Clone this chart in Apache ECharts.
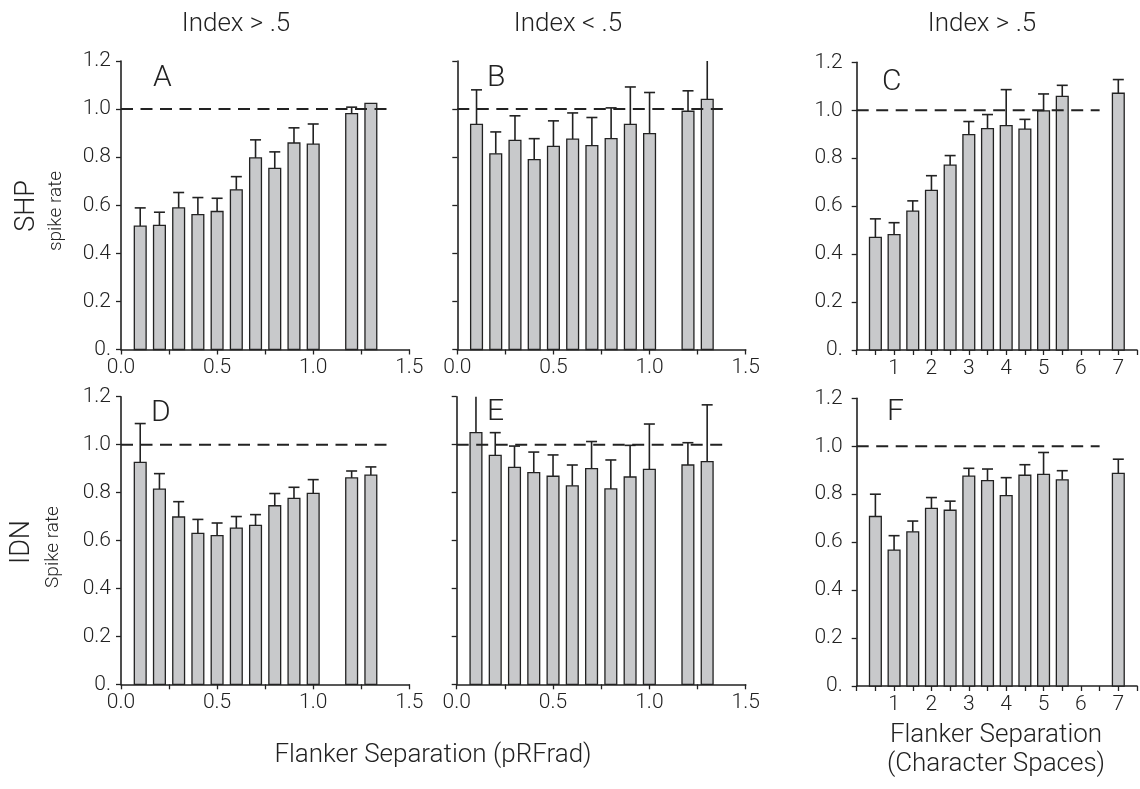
<!DOCTYPE html>
<html>
<head>
<meta charset="utf-8">
<script src="https://cdn.jsdelivr.net/npm/echarts@6/dist/echarts.min.js"></script>
<style>
  html, body { margin: 0; padding: 0; background: #ffffff; }
  #chart { width: 1140px; height: 789px; }
</style>
</head>
<body>
<div id="chart"></div>
<script>
// ---- data ----
const prfX  = [0.1, 0.2, 0.3, 0.4, 0.5, 0.6, 0.7, 0.8, 0.9, 1.0, 1.2, 1.3];
const charX = [0.5, 1.0, 1.5, 2.0, 2.5, 3.0, 3.5, 4.0, 4.5, 5.0, 5.5, 7.0];

// A: SHP, Index > .5 (pRFrad)
const shpHighVal = [0.513, 0.516, 0.589, 0.561, 0.574, 0.664, 0.797, 0.753, 0.859, 0.854, 0.981, 1.024];
const shpHighErr = [0.589, 0.571, 0.653, 0.632, 0.629, 0.719, 0.872, 0.822, 0.922, 0.938, 1.008, 1.024];
// B: SHP, Index < .5 (pRFrad)
const shpLowVal = [0.936, 0.814, 0.870, 0.790, 0.845, 0.875, 0.848, 0.877, 0.936, 0.898, 0.991, 1.040];
const shpLowErr = [1.080, 0.905, 0.972, 0.877, 0.951, 0.984, 0.965, 1.005, 1.092, 1.069, 1.076, 1.220];
// C: SHP, Index > .5 (character spaces)
const shpCharVal = [0.470, 0.481, 0.579, 0.666, 0.771, 0.898, 0.923, 0.936, 0.921, 0.997, 1.058, 1.071];
const shpCharErr = [0.547, 0.531, 0.622, 0.727, 0.811, 0.953, 0.982, 1.086, 0.962, 1.068, 1.104, 1.128];
// D: IDN, Index > .5 (pRFrad)
const idnHighVal = [0.926, 0.814, 0.698, 0.630, 0.620, 0.652, 0.663, 0.745, 0.776, 0.797, 0.861, 0.873];
const idnHighErr = [1.088, 0.879, 0.762, 0.688, 0.673, 0.700, 0.708, 0.796, 0.822, 0.854, 0.890, 0.907];
// E: IDN, Index < .5 (pRFrad)
const idnLowVal = [1.050, 0.955, 0.905, 0.883, 0.868, 0.828, 0.900, 0.815, 0.865, 0.897, 0.915, 0.929];
const idnLowErr = [1.220, 1.050, 0.994, 0.969, 0.957, 0.915, 1.013, 0.936, 0.997, 1.086, 1.008, 1.166];
// F: IDN, Index > .5 (character spaces)
const idnCharVal = [0.707, 0.567, 0.643, 0.741, 0.733, 0.875, 0.857, 0.794, 0.879, 0.883, 0.860, 0.887];
const idnCharErr = [0.800, 0.627, 0.688, 0.786, 0.771, 0.908, 0.905, 0.869, 0.923, 0.974, 0.898, 0.946];

const refLevel = 1.0;
const refEndPrf = 1.39;
const refEndChar = 6.5;

const columnTitles = ['Index > .5', 'Index < .5', 'Index > .5'];
const panelLetters = ['A', 'B', 'C', 'D', 'E', 'F'];
const rowLabels = ['SHP', 'IDN'];
const rowSubLabels = ['spike rate', 'Spike rate'];
const xTitlePrf = 'Flanker Separation (pRFrad)';
const xTitleChar = ['Flanker Separation', '(Character Spaces)'];

// ---- styles ----
const FONT = 'Roboto, "Liberation Sans", Arial, sans-serif';
const FW = 300;
const INK = '#222222';
const TXT = '#222222';
const BAR_FILL = '#c8c9cb';

const panels = [
  { key: 'A', x: prfX,  v: shpHighVal, e: shpHighErr, type: 'prf',  grid: { left: 121,   top: 61,  width: 288.3, height: 288.5 }, yLabels: true,  refEnd: refEndPrf },
  { key: 'B', x: prfX,  v: shpLowVal,  e: shpLowErr,  type: 'prf',  grid: { left: 457.3, top: 61,  width: 288.4, height: 288.5 }, yLabels: false, refEnd: refEndPrf },
  { key: 'C', x: charX, v: shpCharVal, e: shpCharErr, type: 'char', grid: { left: 856.7, top: 62.3, width: 294,  height: 287.7 }, yLabels: true,  refEnd: refEndChar },
  { key: 'D', x: prfX,  v: idnHighVal, e: idnHighErr, type: 'prf',  grid: { left: 121,   top: 396.7, width: 288.3, height: 287.6 }, yLabels: true,  refEnd: refEndPrf },
  { key: 'E', x: prfX,  v: idnLowVal,  e: idnLowErr,  type: 'prf',  grid: { left: 456.7, top: 396.7, width: 289,   height: 287.6 }, yLabels: false, refEnd: refEndPrf },
  { key: 'F', x: charX, v: idnCharVal, e: idnCharErr, type: 'char', grid: { left: 856.7, top: 398.3, width: 294,  height: 287.7 }, yLabels: true,  refEnd: refEndChar }
];

function barRenderer(halfW, capHalf) {
  return function (params, api) {
    const x = api.value(0), y = api.value(1), e = api.value(2);
    const base = api.coord([x, 0]);
    const top = api.coord([x, y]);
    const cs = params.coordSys;
    const children = [];
    if (e > y) {
      const ep = api.coord([x, e]);
      let clipped = false;
      if (ep[1] < cs.y) { ep[1] = cs.y; clipped = true; }
      children.push({
        type: 'line',
        shape: { x1: top[0], y1: top[1], x2: ep[0], y2: ep[1] },
        style: { stroke: INK, lineWidth: 1.6 }
      });
      if (!clipped) {
        children.push({
          type: 'line',
          shape: { x1: ep[0] - capHalf, y1: ep[1], x2: ep[0] + capHalf, y2: ep[1] },
          style: { stroke: INK, lineWidth: 1.6 }
        });
      }
    }
    children.push({
      type: 'rect',
      shape: { x: base[0] - halfW, y: top[1], width: halfW * 2, height: base[1] - top[1] },
      style: { fill: BAR_FILL, stroke: INK, lineWidth: 1.3 }
    });
    return { type: 'group', children: children };
  };
}

const grids = [], xAxes = [], yAxes = [], series = [];
panels.forEach(function (p, i) {
  grids.push(Object.assign({ containLabel: false }, p.grid));
  const isPrf = p.type === 'prf';
  xAxes.push({
    type: 'value', gridIndex: i,
    min: 0, max: isPrf ? 1.5 : 7.5, interval: isPrf ? 0.25 : 0.5,
    axisLine: { show: true, onZero: false, lineStyle: { color: INK, width: 1.6 } },
    axisTick: { show: true, inside: false, length: 5, lineStyle: { color: INK, width: 1.3 } },
    splitLine: { show: false },
    axisLabel: {
      show: true, margin: 8, fontFamily: FONT, fontWeight: FW, fontSize: 21, color: TXT,
      showMinLabel: true, showMaxLabel: true,
      formatter: function (val) {
        const r = Math.round(val * 100);
        if (isPrf) {
          return (r % 50 === 0) ? val.toFixed(1) : '';
        }
        return (r % 100 === 0 && r !== 0) ? String(Math.round(val)) : '';
      }
    }
  });
  yAxes.push({
    type: 'value', gridIndex: i,
    min: 0, max: 1.2, interval: 0.2,
    axisLine: { show: true, onZero: false, lineStyle: { color: INK, width: 1.6 } },
    axisTick: { show: true, inside: false, length: 5, lineStyle: { color: INK, width: 1.3 } },
    splitLine: { show: false },
    axisLabel: {
      show: p.yLabels, margin: isPrf ? 10 : 14, fontFamily: FONT, fontWeight: FW, fontSize: 21, color: TXT,
      formatter: function (val) { return Math.abs(val) < 1e-9 ? '0.' : val.toFixed(1); }
    }
  });
  series.push({
    type: 'custom', xAxisIndex: i, yAxisIndex: i,
    renderItem: barRenderer(5.9, 5.5),
    data: p.x.map(function (xv, k) { return [xv, p.v[k], p.e[k]]; }),
    encode: { x: 0, y: 1 },
    clip: false,
    z: 2,
    silent: true
  });
  series.push({
    type: 'line', xAxisIndex: i, yAxisIndex: i,
    data: [[0, refLevel], [p.refEnd, refLevel]],
    symbol: 'none',
    lineStyle: { color: INK, width: 2, type: [12, 7.5] },
    z: 5,
    silent: true
  });
});

function fnt(size) { return FW + ' ' + size + 'px ' + FONT; }

const graphics = [];
// column titles
[[236, 24], [568, 24], [982, 24]].forEach(function (pos, k) {
  graphics.push({ type: 'text', x: pos[0], y: pos[1],
    style: { text: columnTitles[k], font: fnt(26), fill: TXT, textAlign: 'center', textVerticalAlign: 'middle' } });
});
// panel letters
const letterPos = [[153, 78], [487, 78], [882, 82], [151, 413], [487, 412], [887, 412]];
letterPos.forEach(function (pos, k) {
  graphics.push({ type: 'text', x: pos[0], y: pos[1],
    style: { text: panelLetters[k], font: fnt(30), fill: TXT, textAlign: 'left', textVerticalAlign: 'middle' } });
});
// row labels (rotated)
[[27, 206, 56, 211], [22, 542, 53, 547]].forEach(function (pos, k) {
  graphics.push({ type: 'text', x: pos[0], y: pos[1], rotation: Math.PI / 2,
    style: { text: rowLabels[k], font: fnt(27), fill: TXT, textAlign: 'center', textVerticalAlign: 'middle' } });
  graphics.push({ type: 'text', x: pos[2], y: pos[3], rotation: Math.PI / 2,
    style: { text: rowSubLabels[k], font: fnt(19), fill: TXT, textAlign: 'center', textVerticalAlign: 'middle' } });
});
// x axis titles
graphics.push({ type: 'text', x: 433, y: 755,
  style: { text: xTitlePrf, font: fnt(26), fill: TXT, textAlign: 'center', textVerticalAlign: 'middle' } });
graphics.push({ type: 'text', x: 996, y: 735,
  style: { text: xTitleChar[0], font: fnt(26), fill: TXT, textAlign: 'center', textVerticalAlign: 'middle' } });
graphics.push({ type: 'text', x: 996, y: 764,
  style: { text: xTitleChar[1], font: fnt(26), fill: TXT, textAlign: 'center', textVerticalAlign: 'middle' } });

const chart = echarts.init(document.getElementById('chart'), null, { renderer: 'canvas' });
chart.setOption({
  backgroundColor: '#ffffff',
  animation: false,
  grid: grids,
  xAxis: xAxes,
  yAxis: yAxes,
  series: series,
  graphic: graphics
});
</script>
</body>
</html>
